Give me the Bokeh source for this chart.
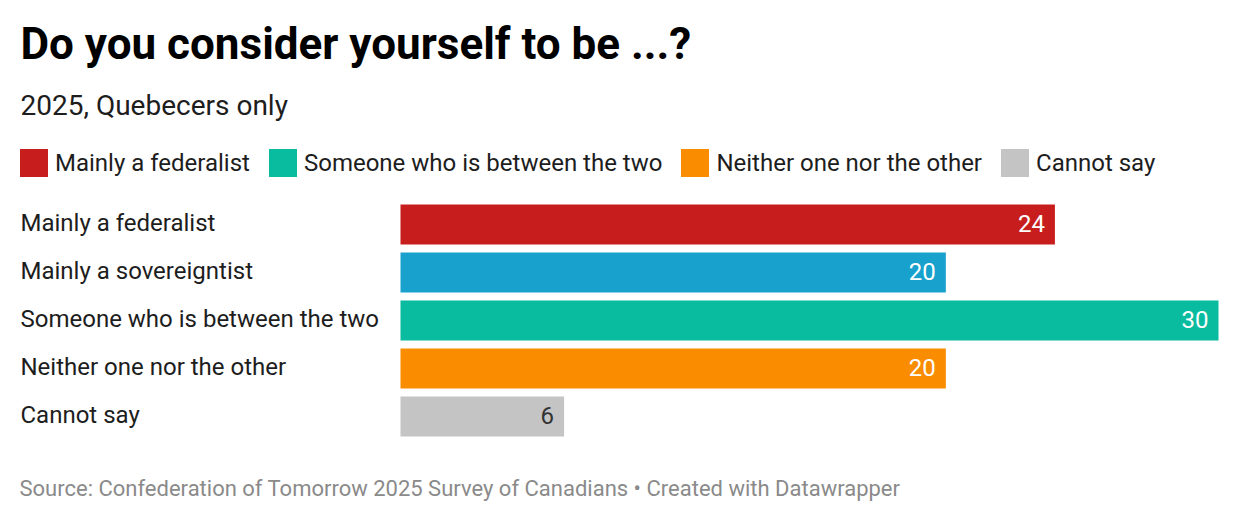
from bokeh.plotting import figure
from bokeh.models import ColumnDataSource, Range1d, Label, Legend, LegendItem
from bokeh.embed import file_html
from bokeh.resources import INLINE
from bokeh.core.properties import value

# ---- data ----
categories = ["Mainly a federalist", "Mainly a sovereigntist", "Someone who is between the two",
              "Neither one nor the other", "Cannot say"]
values = [24, 20, 30, 20, 6]
colors = ["#c71e1d", "#18a1cd", "#09bb9f", "#fa8c00", "#c4c4c4"]
value_label_colors = ["#ffffff", "#ffffff", "#ffffff", "#ffffff", "#333333"]
legend_indices = [0, 2, 3, 4]

title_text = "Do you consider yourself to be ...?"
subtitle_text = "2025, Quebecers only"
footer_text = "Source: Confederation of Tomorrow 2025 Survey of Canadians \u2022 Created with Datawrapper"

# ---- layout constants (pixels) ----
W, H = 1224, 506
bar_x0, bar_x1 = 400, 1218       # pixel of value 0 and of value 30
row0_center, row_step = 224, 48
bar_h_px = 40
xmax = 30
k = (bar_x1 - bar_x0) / xmax

src = ColumnDataSource(dict(
    y=list(range(len(categories))),
    cat=categories,
    val=values,
    color=colors,
    vcolor=value_label_colors,
    vtext=[str(v) for v in values],
))

p = figure(width=W, height=H, output_backend="svg", toolbar_location=None,
           x_range=Range1d(-bar_x0 / k, xmax + (W - bar_x1) / k),
           y_range=Range1d((H - row0_center) / row_step, -row0_center / row_step),
           min_border=0, min_border_left=0, min_border_right=0, min_border_top=0, min_border_bottom=0)
p.axis.visible = False
p.grid.visible = False
p.outline_line_color = None
p.background_fill_color = "white"
p.border_fill_color = "white"

bars = p.hbar(y="y", left=0, right="val", height=bar_h_px / row_step, color="color",
              line_color=None, source=src)

font = value("Roboto")
p.text(x=0, y="y", text="cat", source=src, x_offset=20 - bar_x0, y_offset=-2,
       text_font=font, text_font_size="24px", text_color="#1d1d1d",
       text_align="left", text_baseline="alphabetic")
p.text(x="val", y="y", text="vtext", source=src, x_offset=-10, y_offset=-1,
       text_font=font, text_font_size="24px", text_color="vcolor",
       text_align="right", text_baseline="alphabetic")

p.add_layout(Label(x=20, y=H - 43, x_units="screen", y_units="screen", text=title_text,
                   text_font="Roboto", text_font_style="bold", text_font_size="44px",
                   text_color="#000000", text_baseline="alphabetic"))
p.add_layout(Label(x=20, y=H - 105, x_units="screen", y_units="screen", text=subtitle_text,
                   text_font="Roboto", text_font_size="28px",
                   text_color="#1d1d1d", text_baseline="alphabetic"))
p.add_layout(Label(x=19, y=H - 488, x_units="screen", y_units="screen", text=footer_text,
                   text_font="Roboto", text_font_size="22px",
                   text_color="#8a8a8a", text_baseline="alphabetic"))

items = [LegendItem(label=categories[i], renderers=[bars], index=i) for i in legend_indices]
legend = Legend(items=items, orientation="horizontal", location=(16, H - 180),
                glyph_width=35, glyph_height=35, label_height=35, label_standoff=4,
                spacing=15, padding=0, margin=0, border_line_color=None,
                background_fill_alpha=0, label_text_font="Roboto",
                label_text_font_size="24px", label_text_color="#1d1d1d")
p.add_layout(legend)

open("out.html", "w").write(file_html(p, INLINE))
